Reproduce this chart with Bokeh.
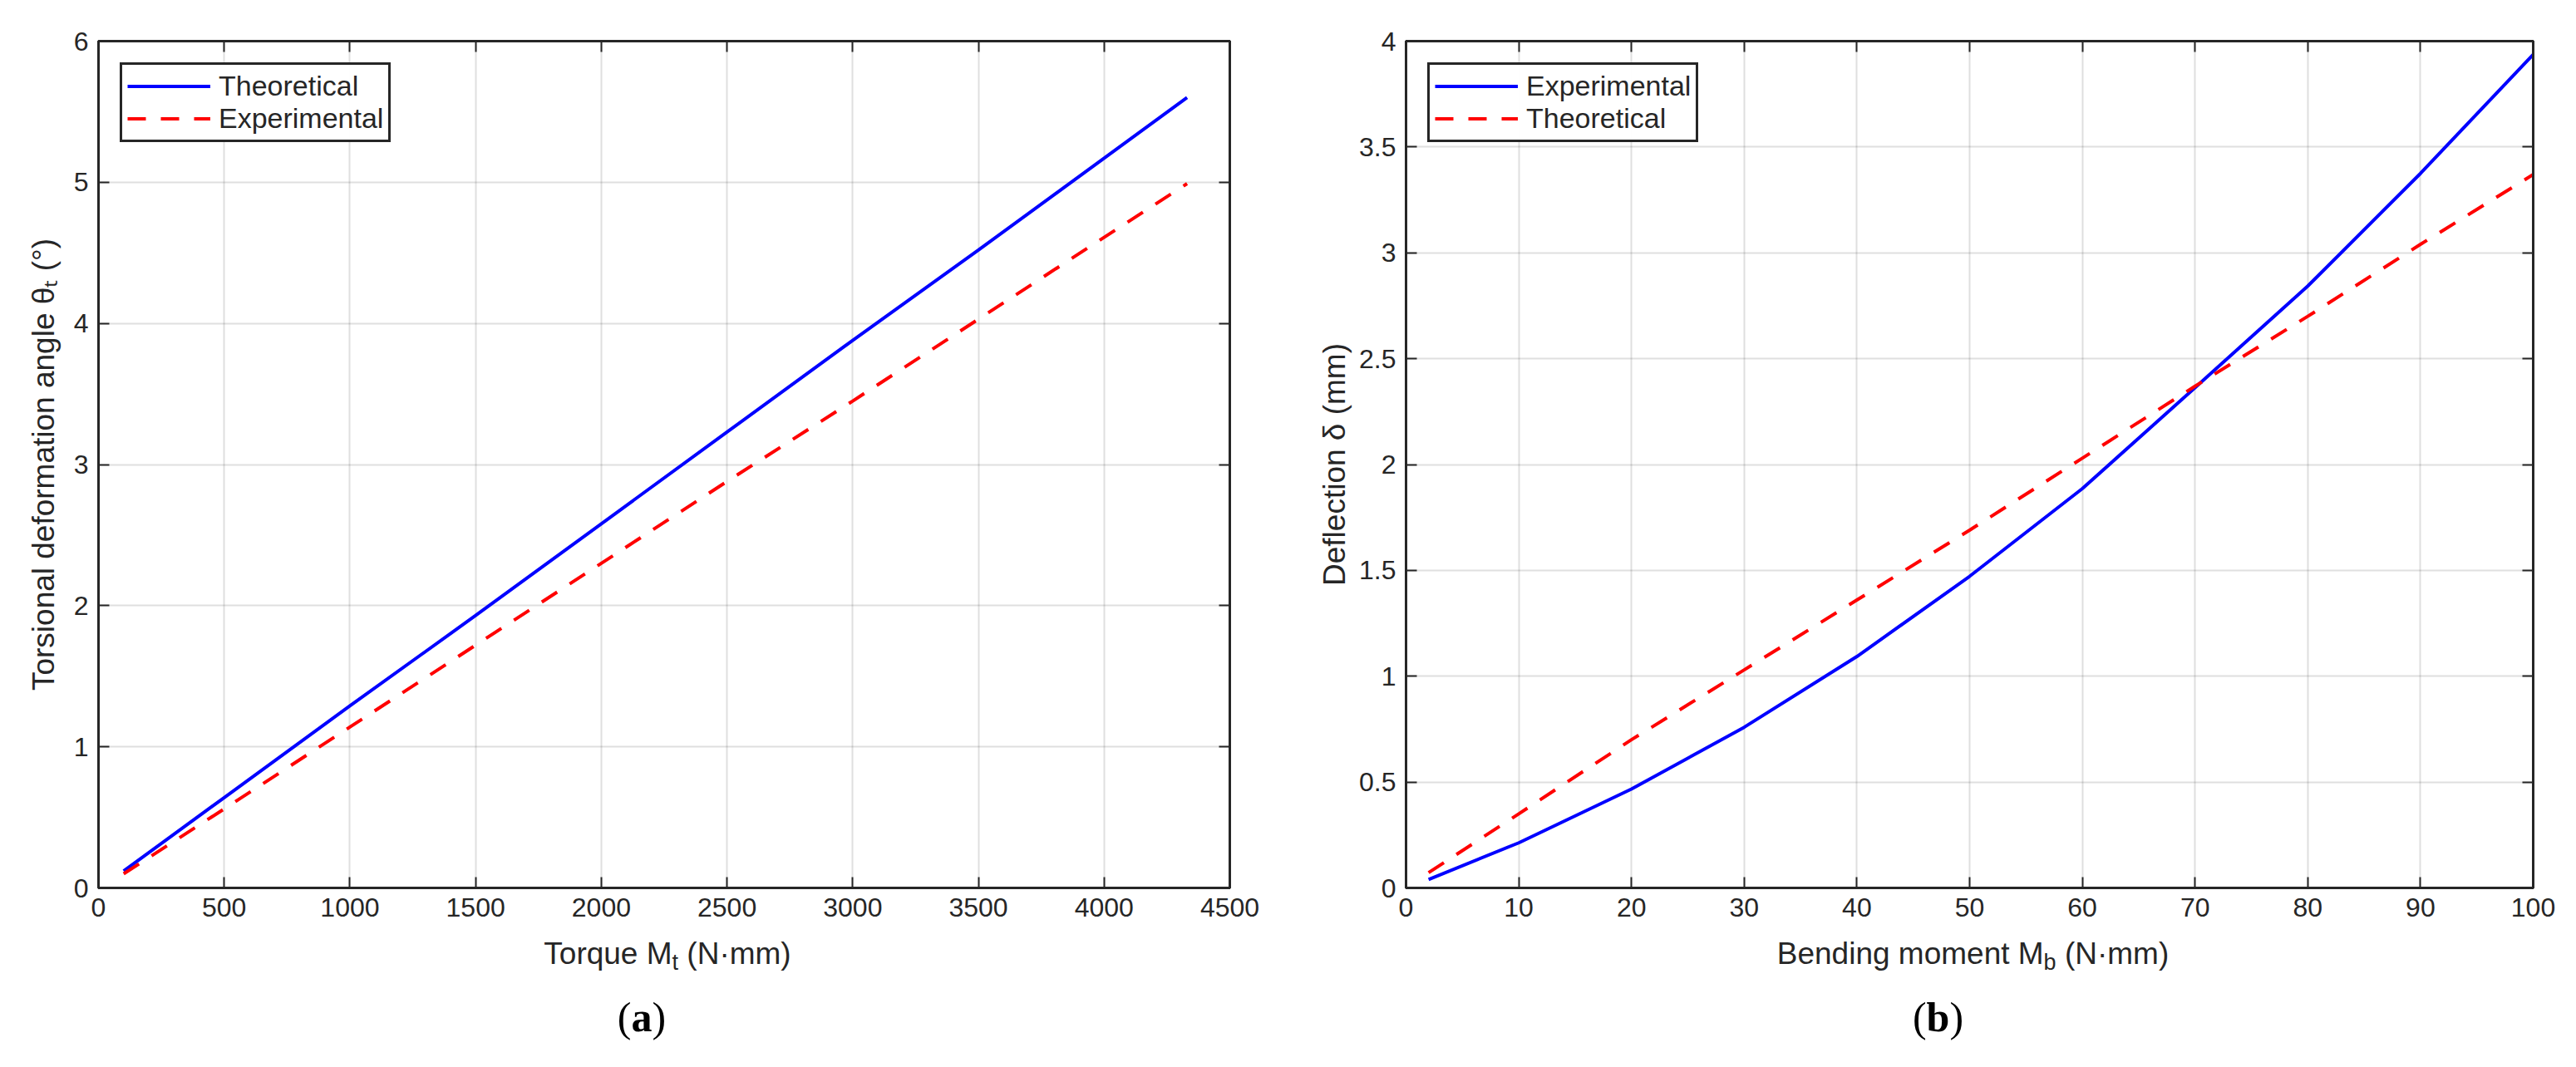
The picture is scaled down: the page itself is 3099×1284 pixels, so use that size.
from bokeh.embed import file_html
from bokeh.layouts import column, row
from bokeh.models import (CustomJSTickFormatter, Div, FixedTicker, Legend,
                          LegendItem, LinearAxis, Range1d)
from bokeh.plotting import figure
from bokeh.resources import INLINE

# data
# (a) torsion
torque = [100, 500, 1000, 1500, 2000, 2500, 3000, 3500, 4000, 4330]
theta_theoretical = [0.12, 0.64, 1.29, 1.93, 2.58, 3.23, 3.88, 4.52, 5.17, 5.60]
theta_experimental = [0.10, 0.56, 1.14, 1.72, 2.30, 2.88, 3.45, 4.03, 4.61, 4.99]
torque_ticks = [0, 500, 1000, 1500, 2000, 2500, 3000, 3500, 4000, 4500]
theta_ticks = [0, 1, 2, 3, 4, 5, 6]

# (b) bending
moment = [2, 10, 20, 30, 40, 50, 60, 70, 80, 90, 100]
deflection_experimental = [0.04, 0.213, 0.467, 0.759, 1.093, 1.472, 1.886, 2.363, 2.843, 3.375, 3.937]
deflection_theoretical = [0.072, 0.35, 0.70, 1.03, 1.36, 1.69, 2.03, 2.37, 2.70, 3.04, 3.37]
moment_ticks = [0, 10, 20, 30, 40, 50, 60, 70, 80, 90, 100]
deflection_ticks = [0, 0.5, 1, 1.5, 2, 2.5, 3, 3.5, 4]

FONT = "Liberation Sans"
INK = "#262626"
BLUE = "#0000ff"
RED = "#ff0000"
DASH = "22 18"
TOP = 49
FRAME_H = 1019
BOTTOM = 56
PAGE_H = 1268
SUB = '<span style="font-size:27px;position:relative;top:7px">{}</span>'


def style_axis(ax):
    ax.axis_line_color = INK
    ax.axis_line_width = 3
    ax.major_tick_in = 13
    ax.major_tick_out = 0
    ax.major_tick_line_color = INK
    ax.major_tick_line_width = 2
    ax.minor_tick_line_color = None
    ax.major_label_text_font = FONT
    ax.major_label_text_font_size = "32px"
    ax.major_label_text_color = INK
    ax.major_label_standoff = 12
    ax.axis_label_text_font = FONT
    ax.axis_label_text_font_size = "37px"
    ax.axis_label_text_font_style = "normal"
    ax.axis_label_text_color = INK
    ax.axis_label_standoff = 6


def panel(width, left, right, xr, yr, xticks, yticks):
    p = figure(width=width, height=TOP + FRAME_H + BOTTOM,
               x_range=Range1d(*xr), y_range=Range1d(*yr),
               output_backend="svg", toolbar_location=None,
               min_border_left=left, min_border_right=right,
               min_border_top=TOP, min_border_bottom=BOTTOM)
    p.outline_line_color = INK
    p.outline_line_width = 3
    p.outline_line_alpha = 1
    p.background_fill_color = "white"
    p.border_fill_color = "white"

    label_fmt = CustomJSTickFormatter(code="return tick.toString();")
    blank_fmt = CustomJSTickFormatter(code="return '';")
    bottom = p.below[0]
    left_ax = p.left[0]
    bottom.ticker = FixedTicker(ticks=xticks)
    left_ax.ticker = FixedTicker(ticks=yticks)
    bottom.formatter = label_fmt
    left_ax.formatter = label_fmt
    top = LinearAxis(ticker=FixedTicker(ticks=xticks), formatter=blank_fmt)
    side = LinearAxis(ticker=FixedTicker(ticks=yticks), formatter=blank_fmt)
    p.add_layout(top, "above")
    p.add_layout(side, "right")
    for ax in [bottom, left_ax, top, side]:
        style_axis(ax)

    p.xgrid.ticker = FixedTicker(ticks=xticks)
    p.ygrid.ticker = FixedTicker(ticks=yticks)
    p.grid.grid_line_color = INK
    p.grid.grid_line_alpha = 0.15
    p.grid.grid_line_width = 2
    return p


def add_legend(p, items):
    leg = Legend(items=items, location="top_left")
    leg.margin = 26
    leg.padding = 6
    leg.spacing = 0
    leg.border_line_color = INK
    leg.border_line_width = 3
    leg.border_line_alpha = 1
    leg.label_text_font = FONT
    leg.label_text_font_size = "34px"
    leg.label_text_color = INK
    leg.glyph_width = 100
    leg.glyph_height = 37
    leg.label_height = 37
    leg.label_standoff = 10
    p.add_layout(leg)


def below_text(width, label, label_dx, letter, caption_dx):
    # x-axis label (with subscript) and the (a)/(b) caption under a panel
    html = (
        f'<div style="width:{width}px;font-family:\'{FONT}\';font-size:37px;line-height:37px;'
        f'color:{INK};text-align:center;white-space:nowrap;position:relative;left:{label_dx}px">'
        f'{label}</div>'
        f'<div style="width:{width}px;margin-top:29px;font-family:\'Liberation Serif\';'
        f'font-size:50px;line-height:50px;color:black;text-align:center;'
        f'position:relative;left:{caption_dx}px">(<b>{letter}</b>)</div>'
    )
    return Div(text=html, width=width, height=PAGE_H - TOP - FRAME_H - BOTTOM)


# (a)
pa = panel(1540, 118, 61, (0, 4500), (0, 6), torque_ticks, theta_ticks)
ra1 = pa.line(torque, theta_theoretical, line_color=BLUE, line_width=4)
ra2 = pa.line(torque, theta_experimental, line_color=RED, line_width=4, line_dash=DASH)
add_legend(pa, [LegendItem(label="Theoretical", renderers=[ra1]),
                LegendItem(label="Experimental", renderers=[ra2])])
pa.left[0].axis_label = "Torsional deformation angle θₜ (°)"
pa.left[0].axis_label_standoff = 13
xa = below_text(1540, "Torque M" + SUB.format("t") + " (N·mm)", 28, "a", -3)

# (b)
pb = panel(1543, 141, 46, (0, 100), (0, 4), moment_ticks, deflection_ticks)
rb1 = pb.line(moment, deflection_experimental, line_color=BLUE, line_width=4)
rb2 = pb.line(moment, deflection_theoretical, line_color=RED, line_width=4, line_dash=DASH)
add_legend(pb, [LegendItem(label="Experimental", renderers=[rb1]),
                LegendItem(label="Theoretical", renderers=[rb2])])
pb.left[0].axis_label = "Deflection δ (mm)"
xb = below_text(1543, "Bending moment M" + SUB.format("b") + " (N·mm)", 47, "b", 5)

layout = row(column(pa, xa), column(pb, xb))
open("out.html", "w").write(file_html(layout, INLINE))
